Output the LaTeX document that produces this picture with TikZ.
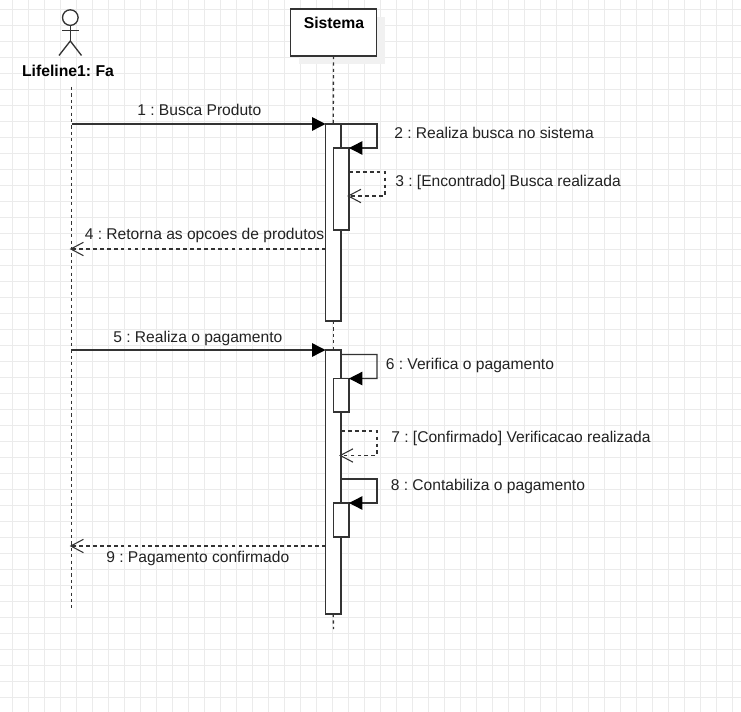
\documentclass[tikz,border=0pt]{standalone}
\usepackage{fontspec}
\setmainfont{Liberation Sans}
\frenchspacing
\usetikzlibrary{arrows.meta,calc}
\definecolor{gridc}{HTML}{EBEBEB}
\definecolor{shadowc}{HTML}{F1F1F1}
\definecolor{linec}{HTML}{333333}
\definecolor{textc}{HTML}{222222}
\tikzset{
  x=0.75pt,y=-0.75pt,
  line/.style={draw=linec,line width=1pt},
  actbox/.style={line,fill=white,rectangle,inner sep=0pt,outer sep=0pt},
  life/.style={draw=linec,line width=1pt,dash pattern=on 2.4pt off 2.4pt},
  sync/.style={line,-{Triangle[length=10pt,width=10pt,color=black]}},
  reply/.style={line,dash pattern=on 2.8pt off 2.4pt,shorten >=-1.4pt,-{Straight Barb[length=9.5pt,width=10pt,line width=0.8pt]}},
  lbl/.style={anchor=base west,inner sep=0pt,text=textc,font=\fontsize{11.7pt}{13pt}\selectfont},
  title/.style={anchor=base,inner sep=0pt,text=black,font=\bfseries\fontsize{11.8pt}{13pt}\selectfont},
}
\begin{document}
\begin{tikzpicture}
\useasboundingbox (0,0) rectangle (741,712);
\fill[white] (0,0) rectangle (741,712);
% background grid
\foreach \k in {0,...,45} {\draw[gridc,line width=0.75pt] ({12.5+16*\k},0) -- ({12.5+16*\k},712);}
\foreach \k in {0,...,44} {\draw[gridc,line width=0.75pt] (0,{9.5+16*\k}) -- (741,{9.5+16*\k});}
% actor
\node[circle,line,inner sep=0pt,outer sep=0pt,minimum size=11.7pt,fill=white] (head) at (70.3,17.6) {};
\coordinate (hip) at (70.3,41);
\coordinate (armL) at (62,30.7);
\coordinate (armR) at (78.5,30.7);
\coordinate (legL) at (59,55.5);
\coordinate (legR) at (81.5,55.5);
\draw[line] (head.south) -- (hip);
\draw[line] (armL) -- (armR);
\draw[line] (legL) -- (hip) -- (legR);
\node[title] (actor) at (68,76.5) {Lifeline1: Fa};
% lifelines
\coordinate (l1top) at (71.5,87);
\coordinate (l1bot) at (71.5,608);
\draw[life] (l1top) -- (l1bot);
\fill[shadowc] (299,17) rectangle (385,64);
\node[actbox,minimum width=64.5pt,minimum height=35.25pt] (sys) at (333.5,32.5) {};
\node[title] at (334,28.5) {Sistema};
\coordinate (l2bot) at (333.5,629);
% activations
\node[actbox,minimum width=11.6pt,minimum height=147.75pt] (a1) at (333.25,222.5) {};
\node[actbox,minimum width=11.6pt,minimum height=198pt] (a2) at (333.25,482) {};
\draw[life] (sys.south) -- (a1.north);
\draw[life] (a1.south) -- (a2.north);
\draw[life] (a2.south) -- (l2bot);
\node[actbox,minimum width=11.6pt,minimum height=61.5pt] (b1) at (341.25,189) {};
\node[actbox,minimum width=11.6pt,minimum height=25pt] (b2) at (341.25,395.2) {};
\node[actbox,minimum width=11.6pt,minimum height=25.5pt] (b3) at (341.25,520) {};
% message points
\coordinate (p1) at (71.5,124);
\coordinate (c2a) at (377,124);
\coordinate (c2b) at (377,148);
\coordinate (s3) at (349,172);
\coordinate (c3a) at (385,172);
\coordinate (c3b) at (385,196);
\coordinate (e3) at (349,196);
\coordinate (s4) at (325.5,249);
\coordinate (e4) at (71.5,249);
\coordinate (p5) at (71.5,350);
\coordinate (s6) at (341,354.5);
\coordinate (c6a) at (377,354.5);
\coordinate (c6b) at (377,378.5);
\coordinate (s7) at (341,431);
\coordinate (c7a) at (377,431);
\coordinate (c7b) at (377,455.5);
\coordinate (e7) at (341,455.5);
\coordinate (s8) at (341,479);
\coordinate (c8a) at (377,479);
\coordinate (c8b) at (377,503);
\coordinate (s9) at (325.5,546);
\coordinate (e9) at (71.5,546);
% messages
\draw[sync] (p1) -- (a1.north west);
\draw[sync] (a1.north east) -- (c2a) -- (c2b) -- (b1.north east);
\draw[reply] (s3) -- (c3a) -- (c3b) -- (e3);
\draw[reply] (s4) -- (e4);
\draw[sync] (p5) -- (a2.north west);
\draw[sync] (s6) -- (c6a) -- (c6b) -- (b2.north east);
\draw[reply] (s7) -- (c7a) -- (c7b) -- (e7);
\draw[sync] (s8) -- (c8a) -- (c8b) -- (b3.north east);
\draw[reply] (s9) -- (e9);
% labels
\node[lbl] (t1) at (137,116) {1 : Busca Produto};
\node[lbl] (t2) at (394,138.5) {2 : Realiza busca no sistema};
\node[lbl] (t3) at (395,186.5) {3 : [Encontrado] Busca realizada};
\node[lbl] (t4) at (84.5,240) {4 : Retorna as opcoes de produtos};
\node[lbl] (t5) at (113,342) {5 : Realiza o pagamento};
\node[lbl] (t6) at (385.5,369.5) {6 : Verifica o pagamento};
\node[lbl] (t7) at (391,442.5) {7 : [Confirmado] Verificacao realizada};
\node[lbl] (t8) at (390.5,490.5) {8 : Contabiliza o pagamento};
\node[lbl] (t9) at (106,562.5) {9 : Pagamento confirmado};
\end{tikzpicture}
\end{document}
